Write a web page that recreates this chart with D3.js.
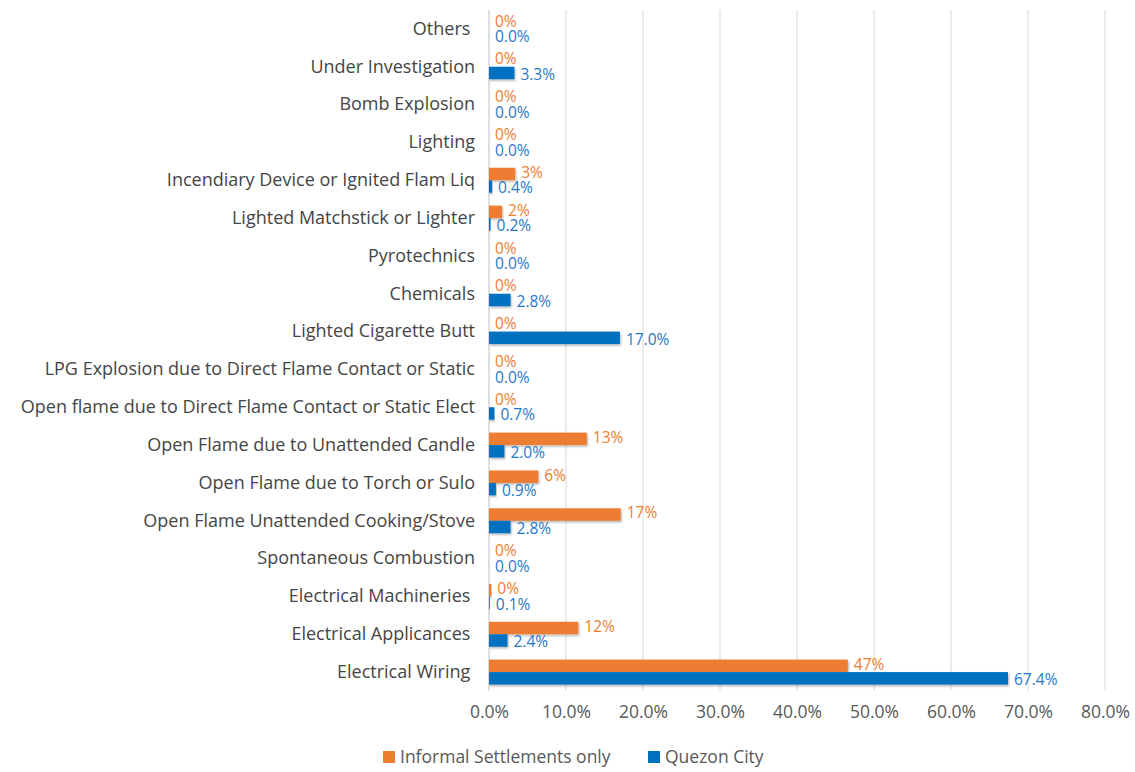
<!DOCTYPE html>
<html>
<head>
<meta charset="utf-8">
<script src="https://cdn.jsdelivr.net/npm/d3@7"></script>
<style>
  html, body { margin: 0; padding: 0; background: #fff; }
  svg text { font-family: "Open Sans", "Noto Sans", sans-serif; white-space: pre; }
</style>
</head>
<body>
<svg id="chart" width="1135" height="772"></svg>
<script>
// Causes of fire, top to bottom
const categories = [
  "Others ",
  "Under Investigation",
  "Bomb Explosion",
  "Lighting",
  "Incendiary Device or Ignited Flam Liq",
  "Lighted Matchstick or Lighter",
  "Pyrotechnics",
  "Chemicals",
  "Lighted Cigarette Butt",
  "LPG Explosion due to Direct Flame Contact or Static",
  "Open flame due to Direct Flame Contact or Static Elect",
  "Open Flame due to Unattended Candle",
  "Open Flame due to Torch or Sulo",
  "Open Flame Unattended Cooking/Stove",
  "Spontaneous Combustion",
  "Electrical Machineries ",
  "Electrical Applicances ",
  "Electrical Wiring "
];

// Share of fires per cause
const informalSettlements = [0, 0, 0, 0, 0.034, 0.017, 0, 0, 0, 0, 0, 0.127, 0.064, 0.171, 0, 0.003, 0.116, 0.466];
const quezonCity = [0, 0.033, 0, 0, 0.004, 0.002, 0, 0.028, 0.170, 0, 0.007, 0.020, 0.009, 0.028, 0, 0.001, 0.024, 0.674];

const seriesNames = ["Informal Settlements only", "Quezon City"];
const seriesColors = ["#ED7D31", "#0070C0"];
const labelColors = ["#ED7D31", "#1F78C8"];
const labelFormats = [d3.format(".0%"), d3.format(".1%")];
const xTicks = [0, 0.1, 0.2, 0.3, 0.4, 0.5, 0.6, 0.7, 0.8];

const svg = d3.select("#chart");
const margin = { left: 489, right: 30, top: 10, bottom: 81 };
const width = 1135, height = 772;

const x = d3.scaleLinear().domain([0, 0.8]).range([margin.left, margin.left + 616]);
const y = d3.scaleBand().domain(categories).range([margin.top, height - margin.bottom]).paddingInner(0.34).paddingOuter(0.17);
const ySub = d3.scaleBand().domain([0, 1]).range([0, y.bandwidth()]);

const defs = svg.append("defs");
const shadow = defs.append("filter").attr("id", "shadow").attr("x", "-10%").attr("y", "-30%").attr("width", "120%").attr("height", "170%");
shadow.append("feDropShadow").attr("dx", 1).attr("dy", 1.5).attr("stdDeviation", 1).attr("flood-color", "#000").attr("flood-opacity", 0.3);

// vertical gridlines
svg.append("g")
  .selectAll("line")
  .data(xTicks.slice(1))
  .join("line")
  .attr("x1", d => x(d)).attr("x2", d => x(d))
  .attr("y1", margin.top).attr("y2", height - margin.bottom)
  .attr("stroke", "#d9d9d9").attr("stroke-width", 1);

// category axis line
svg.append("line")
  .attr("x1", x(0)).attr("x2", x(0))
  .attr("y1", margin.top).attr("y2", height - margin.bottom)
  .attr("stroke", "#bfbfbf").attr("stroke-width", 1);

// x axis tick labels
const xAxis = d3.axisBottom(x).tickValues(xTicks).tickFormat(d3.format(".1%")).tickSize(0).tickPadding(15);
const gx = svg.append("g").attr("transform", `translate(0,${height - margin.bottom})`).call(xAxis);
gx.select(".domain").remove();
gx.selectAll("text").attr("fill", "#595959").style("font-size", "17.5px").style("font-family", "'Open Sans', sans-serif");

// category labels
const yAxis = d3.axisLeft(y).tickSize(0).tickPadding(14);
const gy = svg.append("g").attr("transform", `translate(${x(0)},0)`).call(yAxis);
gy.select(".domain").remove();
gy.selectAll("text").attr("fill", "#454545").style("font-size", "18px").style("font-family", "'Open Sans', sans-serif");

// bars and value labels
const series = [informalSettlements, quezonCity];
series.forEach((vals, si) => {
  const g = svg.append("g");
  g.selectAll("rect")
    .data(vals)
    .join("rect")
    .attr("x", x(0))
    .attr("y", (d, i) => y(categories[i]) + ySub(si))
    .attr("width", d => x(d) - x(0))
    .attr("height", ySub.bandwidth())
    .attr("fill", seriesColors[si])
    .attr("filter", "url(#shadow)");
  g.selectAll("text")
    .data(vals)
    .join("text")
    .attr("x", d => x(d) + 6)
    .attr("y", (d, i) => y(categories[i]) + ySub(si) + ySub.bandwidth() / 2 + (si === 0 ? -1.5 : 1.5))
    .attr("dy", "0.35em")
    .attr("fill", labelColors[si])
    .style("font-size", "15.5px")
    .text(d => labelFormats[si](d));
});

// legend
const legend = svg.append("g").attr("transform", `translate(0, ${height - 15})`);
const legendX = [383, 648];
seriesNames.forEach((name, i) => {
  legend.append("rect").attr("x", legendX[i]).attr("y", -6).attr("width", 12).attr("height", 12).attr("fill", seriesColors[i]);
  legend.append("text").attr("x", legendX[i] + 17).attr("y", 0).attr("dy", "0.35em")
    .attr("fill", "#595959").style("font-size", "17.5px").text(name);
});
</script>
</body>
</html>
